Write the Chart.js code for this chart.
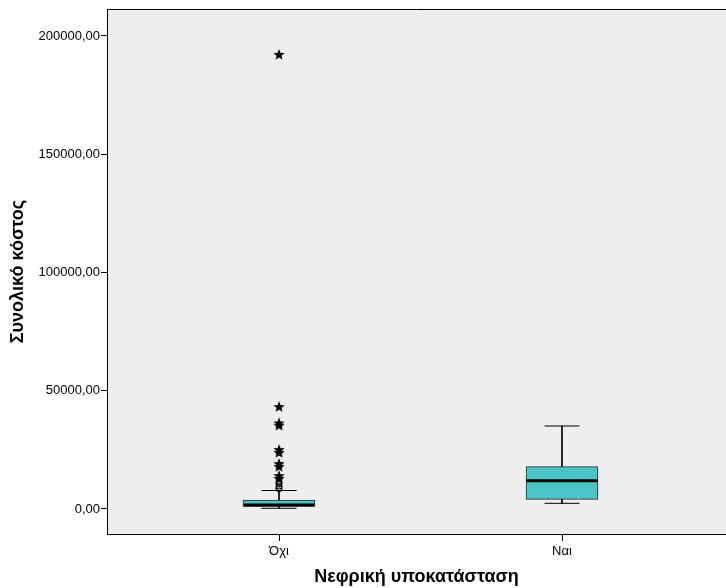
<!DOCTYPE html>
<html lang="el">
<head>
    <meta charset="UTF-8">
    <title>Συνολικό κόστος - Νεφρική υποκατάσταση</title>
    <style>
        * { margin: 0; padding: 0; box-sizing: border-box; }
        body { background-color: #fff; overflow: hidden; }
        #chart-wrap { width: 726px; height: 588px; }
    </style>
</head>
<body>
    <div id="chart-wrap"><canvas id="boxplot" width="726" height="588"></canvas></div>

    <script src="https://cdn.jsdelivr.net/npm/chart.js@4.4.1/dist/chart.umd.min.js"></script>
    <script>
        // groups on the x axis
        const categories = ['Όχι', 'Ναι'];

        // box statistics per group
        const whiskerLow = [300, 2410];
        const q1 = [1060, 4100];
        const median = [1690, 11970];
        const q3 = [3800, 17890];
        const whiskerHigh = [7820, 35100];

        // points beyond the whiskers (group "Όχι")
        const outliersNo = [11300, 10500, 9700, 9000, 8500];
        const extremesNo = [192000, 43100, 36200, 35200, 24900, 23700, 19000, 17800, 13900, 12700];

        const yTicks = [0, 50000, 100000, 150000, 200000];

        const font = "'Liberation Sans', Arial, sans-serif";

        // five-pointed star marker used for extreme values
        function makeStar(size) {
            const c = document.createElement('canvas');
            c.width = size; c.height = size;
            const g = c.getContext('2d');
            const cx = size / 2, cy = size / 2, ro = size / 2, ri = ro * 0.42;
            g.beginPath();
            for (let i = 0; i < 10; i++) {
                const r = i % 2 === 0 ? ro : ri;
                const a = -Math.PI / 2 + i * Math.PI / 5;
                g.lineTo(cx + r * Math.cos(a), cy + r * Math.sin(a));
            }
            g.closePath();
            g.fillStyle = '#000';
            g.fill();
            return c;
        }
        const star = makeStar(12);

        // grey plot background plus top frame line
        const plotFrame = {
            id: 'plotFrame',
            beforeDraw(chart) {
                const { ctx, chartArea: a } = chart;
                ctx.save();
                ctx.fillStyle = '#eeeeee';
                ctx.fillRect(a.left, a.top, a.right - a.left, a.bottom - a.top);
                ctx.strokeStyle = '#000';
                ctx.lineWidth = 1;
                ctx.beginPath();
                ctx.moveTo(a.left, a.top + 0.5);
                ctx.lineTo(a.right, a.top + 0.5);
                ctx.stroke();
                ctx.restore();
            }
        };

        const idx = categories.map((c, i) => i);

        new Chart(document.getElementById('boxplot'), {
            type: 'bar',
            data: {
                datasets: [
                    {
                        label: 'whisker',
                        data: idx.flatMap(i => [{ x: i, y: [q3[i], whiskerHigh[i]] }, { x: i, y: [whiskerLow[i], q1[i]] }]),
                        backgroundColor: '#000',
                        borderWidth: 0,
                        barThickness: 1,
                        grouped: false,
                        order: 3
                    },
                    {
                        label: 'box',
                        data: idx.map(i => ({ x: i, y: [q1[i], q3[i]] })),
                        backgroundColor: '#4bc4c8',
                        borderColor: '#2a2a2a',
                        borderWidth: 1,
                        borderSkipped: false,
                        barThickness: 72,
                        grouped: false,
                        order: 2
                    },
                    {
                        type: 'scatter',
                        label: 'caps',
                        data: idx.flatMap(i => [{ x: i, y: whiskerHigh[i] }, { x: i, y: whiskerLow[i] }]),
                        pointStyle: 'line',
                        pointRadius: 17.5,
                        borderColor: '#000',
                        pointBorderWidth: 1,
                        order: 1
                    },
                    {
                        type: 'scatter',
                        label: 'median',
                        data: idx.map(i => ({ x: i, y: median[i] })),
                        pointStyle: 'line',
                        pointRadius: 35.5,
                        borderColor: '#000',
                        pointBorderWidth: 3,
                        order: 0
                    },
                    {
                        type: 'scatter',
                        label: 'outliers',
                        data: outliersNo.map(v => ({ x: 0, y: v })),
                        pointStyle: 'circle',
                        pointRadius: 3,
                        backgroundColor: 'rgba(0,0,0,0)',
                        borderColor: '#000',
                        pointBorderWidth: 1,
                        order: 0
                    },
                    {
                        type: 'scatter',
                        label: 'extremes',
                        data: extremesNo.map(v => ({ x: 0, y: v })),
                        pointStyle: star,
                        order: 0
                    }
                ]
            },
            options: {
                responsive: false,
                animation: false,
                layout: { autoPadding: false, padding: { top: 9, left: 0, right: 0, bottom: 0 } },
                plugins: {
                    legend: { display: false },
                    tooltip: { enabled: false }
                },
                scales: {
                    x: {
                        type: 'linear',
                        offset: false,
                        min: -0.6078,
                        max: 1.5795,
                        afterBuildTicks: s => { s.ticks = idx.map(v => ({ value: v })); },
                        afterFit: s => { s.height = 54; s.paddingLeft = 0; s.paddingRight = 0; },
                        grid: { offset: false, drawOnChartArea: false, drawTicks: true, tickLength: 7, color: '#000' },
                        border: { display: true, color: '#000', width: 1 },
                        ticks: {
                            color: '#000',
                            font: { family: font, size: 13 },
                            padding: 3,
                            maxRotation: 0,
                            autoSkip: false,
                            callback: v => categories[v]
                        },
                        title: {
                            display: true,
                            text: 'Νεφρική υποκατάσταση',
                            color: '#000',
                            font: { family: font, size: 18, weight: 'bold' },
                            padding: { top: 4, bottom: 0 }
                        }
                    },
                    y: {
                        min: -10571,
                        max: 211416,
                        afterBuildTicks: s => { s.ticks = yTicks.map(v => ({ value: v })); },
                        afterFit: s => { s.width = 107; s.paddingTop = 0; s.paddingBottom = 0; },
                        grid: { drawOnChartArea: false, drawTicks: true, tickLength: 6, color: '#000' },
                        border: { display: true, color: '#000', width: 1 },
                        ticks: {
                            color: '#000',
                            font: { family: font, size: 13 },
                            padding: 1,
                            callback: v => v.toFixed(2).replace('.', ',')
                        },
                        title: {
                            display: true,
                            text: 'Συνολικό κόστος',
                            color: '#000',
                            font: { family: font, size: 18, weight: 'bold' },
                            padding: { top: 7, bottom: 0 }
                        }
                    }
                }
            },
            plugins: [plotFrame]
        });
    </script>
</body>
</html>
